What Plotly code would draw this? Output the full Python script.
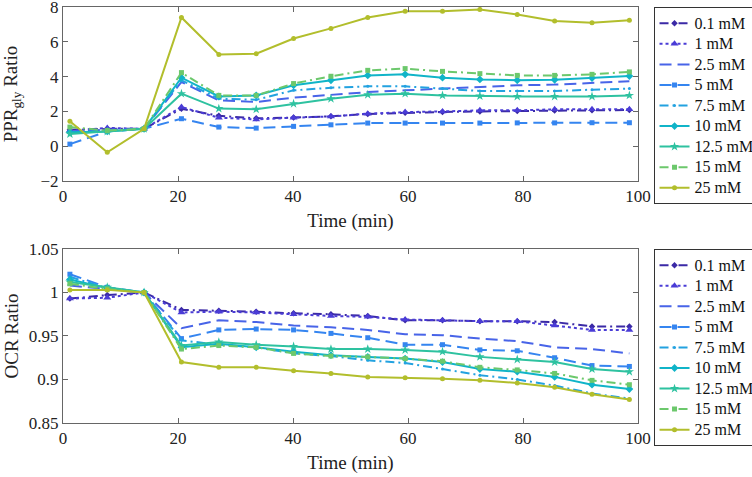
import plotly.graph_objects as go

time_min = [1.2, 7.7, 14.1, 20.6, 27.1, 33.6, 40.1, 46.6, 53.0, 59.5, 66.0, 72.5, 79.0, 85.5, 92.0, 98.5]
series_names = ["0.1 mM", "1 mM", "2.5 mM", "5 mM", "7.5 mM", "10 mM", "12.5 mM", "15 mM", "25 mM"]

ppr_01 = [0.95, 1.0, 1.0, 2.15, 1.75, 1.6, 1.65, 1.72, 1.85, 1.92, 1.97, 2.0, 2.02, 2.05, 2.07, 2.08]
ppr_1 = [0.9, 1.05, 1.0, 2.25, 1.64, 1.54, 1.64, 1.71, 1.87, 1.96, 2.0, 2.06, 2.06, 2.12, 2.12, 2.12]
ppr_25 = [0.85, 0.95, 1.0, 3.69, 2.63, 2.54, 2.79, 2.96, 3.11, 3.21, 3.31, 3.40, 3.5, 3.54, 3.63, 3.73]
ppr_5 = [0.12, 0.85, 1.0, 1.58, 1.1, 1.04, 1.14, 1.23, 1.33, 1.33, 1.33, 1.33, 1.34, 1.34, 1.35, 1.35]
ppr_75 = [0.75, 0.9, 1.0, 3.79, 2.73, 2.67, 3.21, 3.36, 3.44, 3.44, 3.31, 3.17, 3.17, 3.17, 3.25, 3.31]
ppr_10 = [0.8, 0.85, 1.0, 3.94, 2.86, 2.92, 3.5, 3.79, 4.07, 4.13, 3.94, 3.84, 3.79, 3.82, 3.92, 4.03]
ppr_125 = [0.7, 0.85, 1.0, 3.02, 2.16, 2.12, 2.44, 2.73, 2.96, 3.02, 2.92, 2.88, 2.86, 2.86, 2.86, 2.92]
ppr_15 = [1.1, 0.9, 1.0, 4.23, 2.92, 2.92, 3.6, 4.02, 4.36, 4.46, 4.3, 4.17, 4.07, 4.07, 4.13, 4.27]
ppr_250 = [1.44, -0.35, 1.0, 7.4, 5.27, 5.32, 6.19, 6.77, 7.4, 7.76, 7.76, 7.86, 7.57, 7.2, 7.09, 7.24]

ocr_01 = [0.993, 0.997, 1.0, 0.980, 0.979, 0.978, 0.976, 0.975, 0.973, 0.968, 0.968, 0.967, 0.967, 0.966, 0.961, 0.961]
ocr_1 = [0.993, 0.994, 1.0, 0.977, 0.978, 0.977, 0.975, 0.973, 0.972, 0.969, 0.968, 0.967, 0.967, 0.962, 0.957, 0.957]
ocr_25 = [1.008, 1.004, 1.0, 0.959, 0.968, 0.966, 0.962, 0.960, 0.957, 0.952, 0.951, 0.947, 0.944, 0.937, 0.935, 0.930]
ocr_5 = [1.021, 1.006, 1.0, 0.947, 0.957, 0.958, 0.957, 0.953, 0.948, 0.940, 0.940, 0.934, 0.933, 0.925, 0.916, 0.915]
ocr_75 = [1.018, 1.005, 1.0, 0.945, 0.940, 0.937, 0.930, 0.927, 0.922, 0.919, 0.912, 0.905, 0.900, 0.893, 0.884, 0.878]
ocr_10 = [1.015, 1.005, 1.0, 0.937, 0.941, 0.937, 0.932, 0.928, 0.926, 0.924, 0.920, 0.912, 0.909, 0.903, 0.894, 0.889]
ocr_125 = [1.012, 1.006, 1.0, 0.939, 0.943, 0.940, 0.938, 0.935, 0.935, 0.934, 0.932, 0.926, 0.923, 0.920, 0.912, 0.909]
ocr_15 = [1.010, 1.004, 1.0, 0.935, 0.939, 0.937, 0.930, 0.927, 0.926, 0.924, 0.921, 0.914, 0.911, 0.907, 0.899, 0.894]
ocr_250 = [1.003, 1.003, 1.0, 0.920, 0.914, 0.914, 0.910, 0.907, 0.903, 0.902, 0.901, 0.899, 0.896, 0.891, 0.883, 0.877]

x_ticks = [0, 20, 40, 60, 80, 100]
ppr_ticks = [-2, 0, 2, 4, 6, 8]
ocr_ticks = [0.85, 0.9, 0.95, 1.0, 1.05]
ocr_tick_labels = ["0.85", "0.9", "0.95", "1", "1.05"]

ppr_data = [ppr_01, ppr_1, ppr_25, ppr_5, ppr_75, ppr_10, ppr_125, ppr_15, ppr_250]
ocr_data = [ocr_01, ocr_1, ocr_25, ocr_5, ocr_75, ocr_10, ocr_125, ocr_15, ocr_250]

colors = ["#3b2aa6", "#4a3cd6", "#4864e8", "#3585f0", "#23a2e0", "#10b4c8", "#2ec2a0", "#6cc86c", "#b2be2c"]
DASHDOT = "9px,4px,2px,4px"
LONGDASH = "12px,6px"
dashes = [DASHDOT, "dot", LONGDASH, LONGDASH, DASHDOT, "solid", "solid", DASHDOT, "solid"]
symbols = ["diamond", "triangle-up", "circle", "square", "circle", "diamond", "star", "square", "circle"]
msizes = [5, 7, 0, 5, 3, 6, 7, 5, 5]

FONT = "Liberation Serif"
fig = go.Figure()

for data, xa, ya, lg in [(ppr_data, "x", "y", "legend"), (ocr_data, "x2", "y2", "legend2")]:
    for i, name in enumerate(series_names):
        mode = "lines+markers" if msizes[i] > 0 else "lines"
        fig.add_trace(go.Scatter(
            x=time_min, y=data[i], name='<span style="font-size:16px">' + name + "</span>", mode=mode,
            xaxis=xa, yaxis=ya, legend=lg,
            line=dict(color=colors[i], width=2, dash=dashes[i]),
            marker=dict(symbol=symbols[i], size=max(msizes[i], 1), color=colors[i], line=dict(width=0)),
        ))

axis_common = dict(
    showgrid=False, zeroline=False, showline=True, linecolor="#666666", linewidth=1,
    mirror="ticks", ticks="inside", ticklen=5, tickcolor="#666666", automargin=False,
    ticklabeloverflow="allow",
    tickfont=dict(family=FONT, size=17, color="#222222"),
)
title_font = dict(family=FONT, size=19, color="#222222")

top_dom = [0.5817, 1.0]
bot_dom = [0.0, 0.4183]

legend_common = dict(
    font=dict(family=FONT, size=13.5, color="#111111"),
    bordercolor="#333333", borderwidth=1, bgcolor="white",
    xanchor="left", yanchor="top", x=1.027, itemwidth=30,
    tracegroupgap=0,
)

fig.update_layout(
    width=752, height=477,
    margin=dict(l=63, r=114, t=7, b=54, autoexpand=False),
    paper_bgcolor="white", plot_bgcolor="white",
    showlegend=True,
    xaxis=dict(domain=[0, 1], anchor="y", range=[0, 100], tickvals=x_ticks,
               title=dict(text="Time (min)", font=title_font, standoff=8),
               **axis_common),
    yaxis=dict(domain=top_dom, anchor="x", range=[-2, 8], tickvals=ppr_ticks,
               title=dict(text="PPR<sub>gly</sub> Ratio", font=title_font, standoff=17),
               **axis_common),
    xaxis2=dict(domain=[0, 1], anchor="y2", range=[0, 100], tickvals=x_ticks,
                title=dict(text="Time (min)", font=title_font, standoff=8),
                **axis_common),
    yaxis2=dict(domain=bot_dom, anchor="x2", range=[0.85, 1.05], tickvals=ocr_ticks, ticktext=ocr_tick_labels,
                title=dict(text="OCR Ratio", font=title_font, standoff=5),
                **axis_common),
    legend=dict(y=1.0, **legend_common),
    legend2=dict(y=0.4183, **legend_common),
)

fig.write_html("out.html", config={"displayModeBar": False},
               post_script="document.body.style.margin='0';document.body.style.padding='0';")
